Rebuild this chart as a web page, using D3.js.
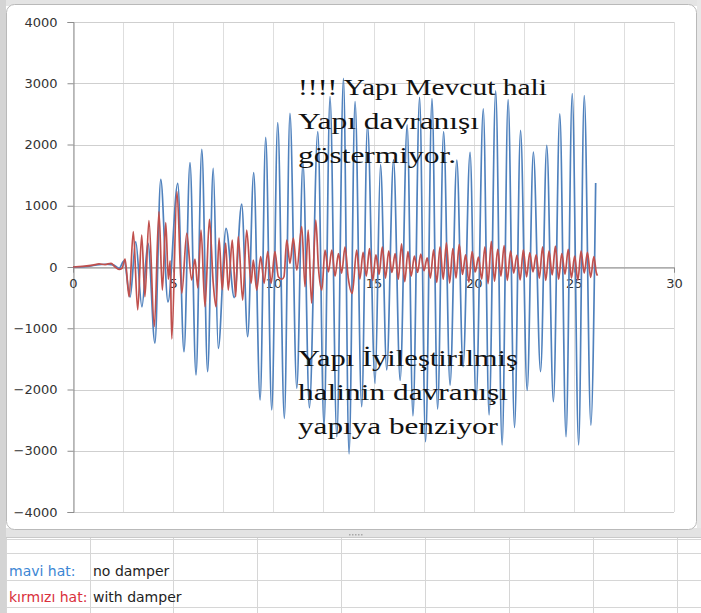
<!DOCTYPE html>
<html>
<head>
<meta charset="utf-8">
<script src="https://cdn.jsdelivr.net/npm/d3@7"></script>
<style>
  html, body { margin: 0; padding: 0; background: #ffffff; }
  svg { display: block; }
</style>
</head>
<body>
<svg id="chart" width="701" height="613"></svg>
<script>
// Tick values and grid steps
const xTicks = [0, 5, 10, 15, 20, 25, 30];
const xGrid = [0, 2.5, 5, 7.5, 10, 12.5, 15, 17.5, 20, 22.5, 25, 27.5, 30];
const yTicks = [-4000, -3000, -2000, -1000, 0, 1000, 2000, 3000, 4000];

// Response without damper (time s, value)
const noDamper = [
  [0,0],[0.6,5],[1.1,30],[1.6,45],[2.0,35],[2.3,-20],[2.55,100],[2.85,-490],[3.13,413],
  [3.44,-650],[3.74,390],[4.09,-1240],[4.38,1432],[4.74,-570],[5.23,1366],[5.54,-1383],
  [5.84,1703],[6.14,-1763],[6.43,1921],[6.72,-1709],[7.00,1611],[7.25,-1328],[7.64,631],
  [8.05,-500],[8.42,1028],[8.72,-1138],[9.02,1540],[9.34,-2171],[9.62,2117],[9.92,-2335],
  [10.22,2357],[10.55,-2471],[10.83,2509],[11.17,-1980],[11.48,1700],[11.80,-2300],
  [12.22,2210],[12.53,-2600],[12.83,2781],[13.17,-2771],[13.50,3080],[13.78,-3050],
  [14.08,2700],[14.41,-2280],[14.70,2320],[15.08,-1900],[15.35,1670],[15.66,-1680],
  [16.00,1750],[16.33,-1850],[16.68,2320],[16.97,-2430],[17.30,2770],[17.60,-2852],
  [17.92,2750],[18.20,-2320],[18.50,2210],[18.82,-1927],[19.16,1747],[19.47,-1628],
  [19.82,1870],[20.12,-2171],[20.48,2580],[20.77,-2416],[21.10,2876],[21.42,-2906],
  [21.72,2733],[22.04,-2620],[22.34,2230],[22.67,-2015],[22.98,1875],[23.34,-1709],
  [23.65,1985],[23.98,-2199],[24.30,2500],[24.61,-2771],[24.92,2830],[25.24,-2906],
  [25.52,2800],[25.85,-2580],[26.09,1370]
];

// Response with damper (time s, value)
const withDamper = [
  [0,0],[0.5,10],[1.0,30],[1.3,50],[1.6,40],[1.9,60],[2.1,0],[2.3,-40],[2.45,-20],
  [2.60,130],[2.80,-485],[3.01,577],[3.23,-702],[3.43,522],[3.59,-485],[3.79,756],
  [4.06,-974],[4.29,903],[4.46,-376],[4.63,723],[4.76,-200],[4.85,100],[4.93,-1175],
  [5.19,1230],[5.43,-430],[5.68,550],[5.92,-212],[6.09,130],[6.23,-340],[6.39,604],
  [6.59,-648],[6.81,780],[7.00,-266],[7.14,-650],[7.29,473],[7.45,-370],[7.62,392],
  [7.75,-376],[7.95,440],[8.12,-485],[8.25,495],[8.47,-540],[8.67,604],[8.89,-266],
  [9.00,114],[9.17,-376],[9.37,168],[9.54,-266],[9.72,250],[9.89,-266],[10.08,250],
  [10.25,-158],[10.43,-200],[10.53,-160],[10.67,440],[10.83,60],[11.00,473],[11.17,-50],
  [11.42,658],[11.58,-320],[11.74,604],[11.91,-590],[12.12,767],[12.25,0],[12.42,-376],
  [12.58,277],[12.75,-80],[12.92,277],[13.08,-150],[13.25,220],[13.41,-100],[13.58,331],
  [13.74,-180],[13.94,-430],[14.16,277],[14.32,-200],[14.48,240],[14.64,-150],[14.80,300],
  [14.96,-220],[15.12,200],[15.28,-120],[15.44,330],[15.60,-180],[15.76,260],[15.92,-90],
  [16.08,220],[16.24,-200],[16.40,380],[16.56,-240],[16.72,250],[16.88,-150],[17.04,180],
  [17.20,-90],[17.36,210],[17.52,-60],[17.68,150],[17.84,-180],[18.00,280],[18.16,-250],
  [18.32,330],[18.48,-200],[18.64,400],[18.80,-260],[18.96,300],[19.12,-180],[19.28,370],
  [19.44,-120],[19.60,200],[19.76,-250],[19.92,250],[20.08,-80],[20.24,160],[20.40,-200],
  [20.56,330],[20.72,-270],[20.88,420],[21.04,-230],[21.20,290],[21.36,-150],[21.52,350],
  [21.68,-220],[21.84,260],[22.00,-100],[22.16,190],[22.32,-210],[22.48,280],[22.64,-160],
  [22.80,230],[22.96,-80],[23.12,200],[23.28,-180],[23.44,330],[23.60,-220],[23.76,260],
  [23.92,-130],[24.08,340],[24.24,-200],[24.40,220],[24.56,-120],[24.72,290],[24.88,-180],
  [25.04,180],[25.20,-220],[25.36,260],[25.52,-100],[25.68,240],[25.84,-170],[26.00,170],
  [26.12,-90],[26.18,-140]
];

// Annotation lines
const noteTop = ["!!!! Yapı Mevcut hali", "Yapı davranışı", "göstermiyor."];
const noteBottom = ["Yapı İyileştirilmiş", "halinin davranışı", "yapıya benziyor"];

// Legend cells below the chart
const legendRows = [
  { key: "mavi hat:", label: "no damper", color: "#3c86d4" },
  { key: "kırmızı hat:", label: "with damper", color: "#d9303c" }
];

const svg = d3.select("#chart");
const W = 701, H = 613;

// Window surroundings
svg.append("rect").attr("x", 0).attr("y", 0).attr("width", W).attr("height", H).attr("fill", "#ffffff");
svg.append("rect").attr("x", 0).attr("y", 0).attr("width", W).attr("height", 6).attr("fill", "#e4e4e4");
svg.append("rect").attr("x", 0).attr("y", 0).attr("width", 6).attr("height", H).attr("fill", "#d4d4d4");
svg.append("rect").attr("x", 697).attr("y", 0).attr("width", 4).attr("height", 531).attr("fill", "#e8e8e8");

// Spreadsheet cells below the chart
const cellCols = [6, 90, 173, 257, 341, 425, 509, 593, 677];
const cellRows = [539, 553, 580, 607];
const sheet = svg.append("g");
sheet.append("rect").attr("x", 6).attr("y", 528).attr("width", W - 6).attr("height", 9).attr("fill", "#e3e3e3");
sheet.append("line").attr("x1", 6).attr("x2", W).attr("y1", 537.5).attr("y2", 537.5).attr("stroke", "#c9c9c9");
cellRows.forEach(r => sheet.append("line").attr("x1", 6).attr("x2", W)
  .attr("y1", r + 0.5).attr("y2", r + 0.5).attr("stroke", "#d6d6d6"));
cellCols.forEach(c => sheet.append("line").attr("x1", c + 0.5).attr("x2", c + 0.5)
  .attr("y1", 538).attr("y2", H).attr("stroke", "#d6d6d6"));
[349, 352, 355, 358, 361].forEach(dx => sheet.append("rect").attr("x", dx).attr("y", 534)
  .attr("width", 1.5).attr("height", 1.5).attr("fill", "#a8a8a8"));

legendRows.forEach((row, i) => {
  const base = 576 + i * 26;
  sheet.append("text").attr("x", 9).attr("y", base).attr("fill", row.color)
    .attr("font-family", "DejaVu Sans, Verdana, sans-serif").attr("font-size", 14).text(row.key);
  sheet.append("text").attr("x", 93).attr("y", base).attr("fill", "#1e1e1e")
    .attr("font-family", "DejaVu Sans, Verdana, sans-serif").attr("font-size", 14).text(row.label);
});

// Chart frame
svg.append("rect").attr("x", 6.5).attr("y", 4.5).attr("width", 690).attr("height", 525)
  .attr("rx", 8).attr("fill", "#ffffff").attr("stroke", "#b9b9b9");

// Scales
const x = d3.scaleLinear().domain([0, 30]).range([73, 674]);
const y = d3.scaleLinear().domain([-4000, 4000]).range([512, 22]);

// Gridlines
const grid = svg.append("g");
grid.selectAll("line.v").data(xGrid).join("line")
  .attr("x1", d => Math.round(x(d)) + 0.5).attr("x2", d => Math.round(x(d)) + 0.5)
  .attr("y1", y(4000)).attr("y2", y(-4000))
  .attr("stroke", "#dedede").attr("stroke-width", 1);
grid.selectAll("line.h").data(yTicks).join("line")
  .attr("x1", x(0)).attr("x2", x(30))
  .attr("y1", d => Math.round(y(d)) + 0.5).attr("y2", d => Math.round(y(d)) + 0.5)
  .attr("stroke", "#cfcfcf").attr("stroke-width", 1.2);

// Y axis
const yAxis = svg.append("g").attr("transform", `translate(${Math.round(x(0)) + 0.5},0)`)
  .call(d3.axisLeft(y).tickValues(yTicks).tickSize(6).tickPadding(10).tickFormat(d3.format("d")));
yAxis.select(".domain").attr("stroke", "#8c8c8c");
yAxis.selectAll(".tick line").attr("stroke", "#8c8c8c");
yAxis.selectAll(".tick text").attr("fill", "#333").attr("font-size", 13)
  .attr("font-family", "DejaVu Sans, Verdana, sans-serif");

// X axis on the zero line
const xAxis = svg.append("g").attr("transform", `translate(0,${Math.round(y(0)) + 0.5})`)
  .call(d3.axisBottom(x).tickValues(xTicks).tickSize(5).tickPadding(6).tickFormat(d3.format("d")));
xAxis.select(".domain").attr("stroke", "#8c8c8c");
xAxis.selectAll(".tick line").attr("stroke", "#8c8c8c");
xAxis.selectAll(".tick text").attr("fill", "#333").attr("font-size", 13)
  .attr("font-family", "DejaVu Sans, Verdana, sans-serif");

// Series
const line = d3.line().x(d => x(d[0])).y(d => y(d[1])).curve(d3.curveMonotoneX);
svg.append("path").datum(noDamper).attr("d", line).attr("fill", "none")
  .attr("stroke", "#4f81bd").attr("stroke-width", 1.7).attr("stroke-linejoin", "round");
svg.append("path").datum(withDamper).attr("d", line).attr("fill", "none")
  .attr("stroke", "#c0504d").attr("stroke-width", 1.7).attr("stroke-linejoin", "round");

// Annotations
const noteFont = "Liberation Serif, 'Times New Roman', serif";
const topWidths = [249, 181, 158];
const bottomWidths = [220, 210, 200];
noteTop.forEach((t, i) => {
  svg.append("text").attr("x", 298).attr("y", 95 + i * 34).attr("fill", "#111")
    .attr("font-family", noteFont).attr("font-size", 24)
    .attr("textLength", topWidths[i]).attr("lengthAdjust", "spacingAndGlyphs").text(t);
});
noteBottom.forEach((t, i) => {
  svg.append("text").attr("x", 298).attr("y", 366 + i * 34).attr("fill", "#111")
    .attr("font-family", noteFont).attr("font-size", 24)
    .attr("textLength", bottomWidths[i]).attr("lengthAdjust", "spacingAndGlyphs").text(t);
});
</script>
</body>
</html>
